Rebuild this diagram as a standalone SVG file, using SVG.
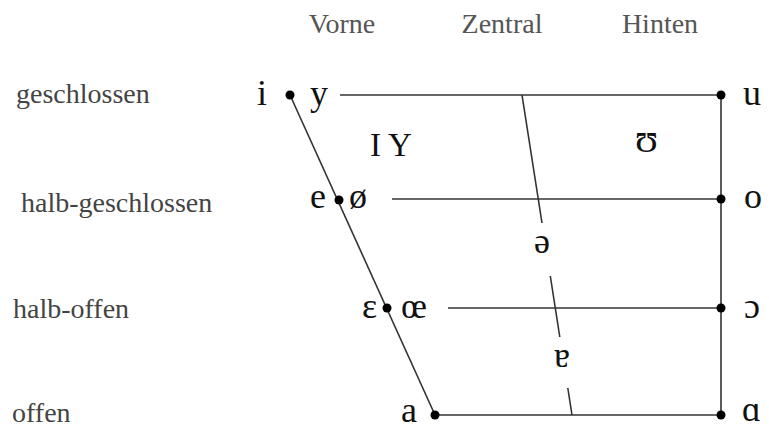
<svg xmlns="http://www.w3.org/2000/svg" width="769" height="430" viewBox="0 0 769 430">
<style>
.hdr{font-family:"Liberation Serif","Times New Roman",serif;font-size:28px;fill:#555}
.lbl{font-family:"Liberation Serif","Times New Roman",serif;font-size:28px;fill:#444}
.ipa{font-family:"Liberation Serif","DejaVu Serif",serif;font-size:36px;fill:#111}
.ln{stroke:#333;stroke-width:1.6;fill:none}
.hl{stroke:#666;stroke-width:2.2;fill:none}
.dot{fill:#000}
</style>
<rect width="769" height="430" fill="#fff"/>
<g id="headers">
<text class="hdr" x="342" y="33" text-anchor="middle">Vorne</text>
<text class="hdr" x="502" y="33" text-anchor="middle">Zentral</text>
<text class="hdr" x="660" y="33" text-anchor="middle">Hinten</text>
</g>
<g id="row-labels">
<text class="lbl" x="16" y="103">geschlossen</text>
<text class="lbl" x="21" y="212">halb-geschlossen</text>
<text class="lbl" x="13" y="318">halb-offen</text>
<text class="lbl" x="12" y="422">offen</text>
</g>
<g id="connectors">
<line class="ln" x1="290" y1="95" x2="435" y2="415"/>
<line class="hl" x1="340" y1="95" x2="721" y2="95"/>
<line class="hl" x1="392" y1="199" x2="721" y2="199"/>
<line class="hl" x1="448" y1="308" x2="721" y2="308"/>
<line class="ln" x1="435" y1="415" x2="721" y2="415"/>
<line class="ln" x1="721" y1="95" x2="721" y2="415"/>
<line class="ln" x1="522" y1="95" x2="542" y2="223"/>
<line class="ln" x1="550.3" y1="276" x2="559.8" y2="337"/>
<line class="ln" x1="567.8" y1="388" x2="572" y2="415"/>
</g>
<g id="node-i-y"><circle class="dot" cx="290" cy="95" r="4.5"/><text class="ipa" x="257" y="105">i</text><text class="ipa" x="310" y="105">y</text></g>
<g id="node-e-oe"><circle class="dot" cx="339" cy="200" r="4.5"/><text class="ipa" x="310" y="208">e</text><text class="ipa" x="349" y="208">ø</text></g>
<g id="node-eps-oe"><circle class="dot" cx="387" cy="308" r="4.5"/><text class="ipa" x="362" y="318">ɛ</text><text class="ipa" x="401" y="318">œ</text></g>
<g id="node-a"><circle class="dot" cx="435" cy="415" r="4.5"/><text class="ipa" x="401" y="422">a</text></g>
<g id="node-u"><circle class="dot" cx="721" cy="95" r="4.5"/><text class="ipa" x="743" y="105">u</text></g>
<g id="node-o"><circle class="dot" cx="721" cy="199" r="4.5"/><text class="ipa" x="744" y="208">o</text></g>
<g id="node-open-o"><circle class="dot" cx="721" cy="308" r="4.5"/><text class="ipa" x="744" y="318">ɔ</text></g>
<g id="node-alpha"><circle class="dot" cx="721" cy="415" r="4.5"/><text class="ipa" x="742" y="421">ɑ</text></g>
<g id="node-IY"><text class="ipa" x="370" y="156" style="font-size:33px">I Y</text></g>
<g id="node-upsilon"><text class="ipa" x="635" y="152" style="font-size:42px">ʊ</text></g>
<g id="node-schwa"><text class="ipa" x="534" y="253">ə</text></g>
<g id="node-turned-a"><text class="ipa" x="554" y="367">ɐ</text></g>
</svg>
